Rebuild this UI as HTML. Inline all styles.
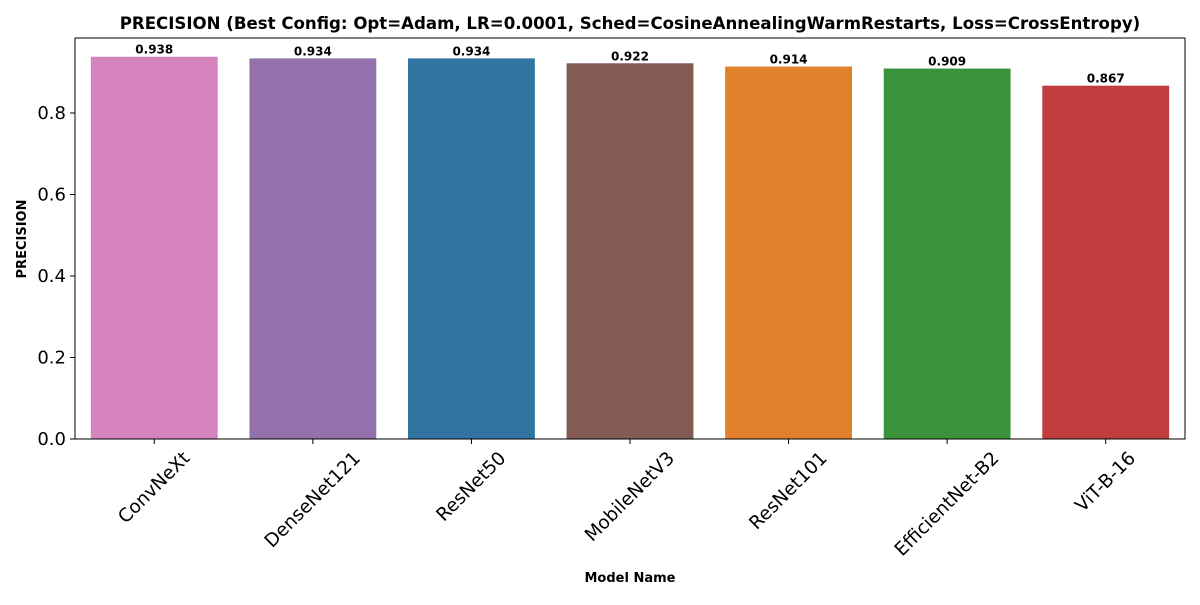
<!DOCTYPE html>
<html><head><meta charset="utf-8"><style>
body{margin:0;background:#fff;}
svg text{font-family:"DejaVu Sans","Liberation Sans",sans-serif;}
</style></head><body>
<svg id="chart" width="1200" height="600" xmlns="http://www.w3.org/2000/svg">
<rect width="1200" height="600" fill="#fff"/>
<text x="630" y="29" text-anchor="middle" font-size="16.6" font-weight="bold">PRECISION (Best Config: Opt=Adam, LR=0.0001, Sched=CosineAnnealingWarmRestarts, Loss=CrossEntropy)</text>
<g id="bars"></g>
<g id="yaxis"></g>
<g id="xaxis"></g>
<rect x="75" y="38" width="1110" height="401" fill="none" stroke="#000" stroke-width="1"/>
<text x="630" y="582" text-anchor="middle" font-size="13" font-weight="bold">Model Name</text>
<text transform="translate(26,239) rotate(-90)" text-anchor="middle" font-size="13" font-weight="bold">PRECISION</text>
</svg>
<script>
const categories=["ConvNeXt","DenseNet121","ResNet50","MobileNetV3","ResNet101","EfficientNet-B2","ViT-B-16"];
const values=[0.938,0.934,0.934,0.922,0.914,0.909,0.867];
const colors=["#d684bd","#9271ad","#3274a1","#845b53","#e1812c","#3a923a","#c03d3e"];
const yTicks=[0,0.2,0.4,0.6,0.8];
const X0=75,X1=1185,Y0=439,YMAX=0.984,YTOP=38;
const ns="http://www.w3.org/2000/svg";
const step=(X1-X0)/categories.length;
function xc(i){return X0+step*(i+0.5);}
function y(v){return Y0-(v/YMAX)*(Y0-YTOP);}
function mk(t,a,p){const e=document.createElementNS(ns,t);for(const k in a)e.setAttribute(k,a[k]);p.appendChild(e);return e;}
const gb=document.getElementById('bars'),gy=document.getElementById('yaxis'),gx=document.getElementById('xaxis');
const bw=step*0.8;
values.forEach((v,i)=>{
 const r=mk('rect',{x:xc(i)-bw/2,y:y(v),width:bw,height:Y0-y(v),fill:colors[i]},gb);
 
 
 const t=mk('text',{x:xc(i),y:y(v)-3,'text-anchor':'middle','font-size':'12','font-weight':'bold'},gb);
 t.textContent=v.toFixed(3);
 
 
 mk('line',{x1:xc(i),x2:xc(i),y1:Y0,y2:Y0+5,stroke:'#000'},gx);
 const l=mk('text',{x:0,y:0,'text-anchor':'middle','dominant-baseline':'central','font-size':'18.5'},gx);
 l.textContent=categories[i];
 
 
 const w=l.getComputedTextLength();
 const half=(w+18)/(2*Math.SQRT2);
 l.setAttribute('transform',`translate(${xc(i)},${Y0+10+half}) rotate(-45)`);
});
yTicks.forEach(v=>{
 mk('line',{x1:X0-5,x2:X0,y1:y(v),y2:y(v),stroke:'#000'},gy);
 const t=mk('text',{x:X0-9,y:y(v)+6,'text-anchor':'end','font-size':'18'},gy);
 t.textContent=v.toFixed(1);
 
 
});
</script>
</body></html>
